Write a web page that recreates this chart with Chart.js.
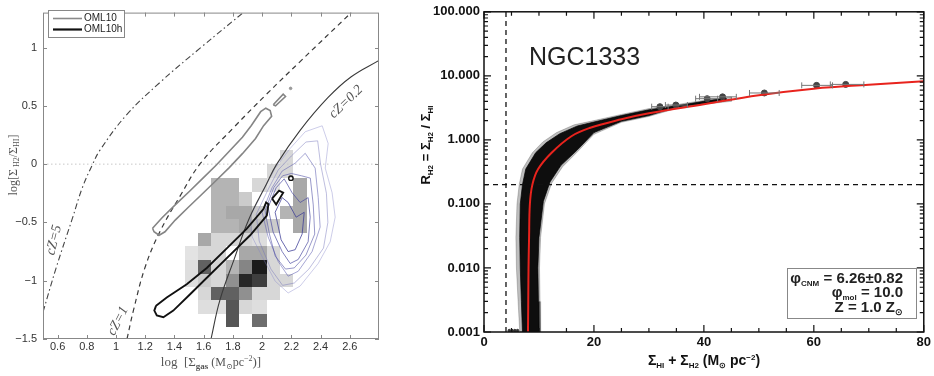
<!DOCTYPE html>
<html>
<head>
<meta charset="utf-8">
<script src="https://cdn.jsdelivr.net/npm/chart.js@4.4.0/dist/chart.umd.min.js"></script>
<style>
html, body { margin: 0; padding: 0; background: #fff; }
#wrap { position: relative; width: 934px; height: 376px; overflow: hidden; }
#leftBox { position: absolute; left: 0; top: 0; width: 400px; height: 376px; }
#rightBox { position: absolute; left: 400px; top: 0; width: 534px; height: 376px; }
</style>
</head>
<body>
<div id="wrap">
  <div id="leftBox"><canvas id="leftChart" width="400" height="376"></canvas></div>
  <div id="rightBox"><canvas id="rightChart" width="534" height="376"></canvas></div>
</div>
<script>
// ---------- left panel data (log Sigma_gas vs log R_H2) ----------
const leftXTicks = [0.6, 0.8, 1.0, 1.2, 1.4, 1.6, 1.8, 2.0, 2.2, 2.4, 2.6];
const leftYTicks = [-1.5, -1, -0.5, 0, 0.5, 1];

// model curves
const cz5X = [0.50, 0.59, 0.70, 0.77, 0.84, 0.89, 1.07, 1.30, 1.58, 1.90];
const cz5Y = [-1.27, -0.89, -0.47, -0.20, 0.00, 0.12, 0.42, 0.70, 1.00, 1.33];
const cz1X = [1.075, 1.12, 1.20, 1.30, 1.44, 1.58, 1.81, 2.03, 2.26, 2.61];
const cz1Y = [-1.50, -1.25, -0.88, -0.58, -0.27, 0.01, 0.32, 0.60, 0.88, 1.30];
const cz02X = [1.65, 1.71, 1.81, 1.91, 2.03, 2.10, 2.26, 2.45, 2.61, 2.80];
const cz02Y = [-1.50, -1.17, -0.81, -0.47, -0.17, 0.00, 0.29, 0.57, 0.75, 0.89];

// OML10 contour (grey) + small islands
const oml10X = [1.25, 1.315, 1.405, 1.505, 1.595, 1.685, 1.775, 1.865, 1.925, 1.99, 2.025, 2.055, 2.065, 2.01, 1.955, 1.865, 1.775, 1.685, 1.595, 1.495, 1.405, 1.335, 1.295, 1.26, 1.25];
const oml10Y = [-0.55, -0.46, -0.35, -0.23, -0.12, -0.01, 0.11, 0.23, 0.33, 0.45, 0.48, 0.46, 0.41, 0.33, 0.22, 0.09, -0.03, -0.14, -0.25, -0.37, -0.48, -0.58, -0.61, -0.58, -0.55];
const oml10IsleX = [2.076, 2.144, 2.160, 2.092, 2.076];
const oml10IsleY = [0.51, 0.60, 0.58, 0.50, 0.51];
const oml10DotX = [2.195];
const oml10DotY = [0.65];

// OML10h contour (black) + small islands
const oml10hX = [1.274, 1.347, 1.484, 1.621, 1.758, 1.895, 2.009, 2.027, 2.043, 2.032, 1.918, 1.781, 1.644, 1.507, 1.392, 1.324, 1.279, 1.262, 1.274];
const oml10hY = [-1.214, -1.144, -1.031, -0.891, -0.722, -0.554, -0.385, -0.329, -0.343, -0.441, -0.610, -0.778, -0.947, -1.116, -1.256, -1.313, -1.298, -1.256, -1.214];
const oml10hIsleX = [2.068, 2.116, 2.144, 2.096, 2.068];
const oml10hIsleY = [-0.295, -0.228, -0.245, -0.346, -0.295];
const oml10hDotX = [2.197];
const oml10hDotY = [-0.12];

// observed data contours (blue), outermost first
const blue1X = [1.918, 2.0, 2.089, 2.192, 2.295, 2.411, 2.452, 2.432, 2.479, 2.5, 2.466, 2.384, 2.260, 2.178, 2.089, 2.0, 1.932, 1.918];
const blue1Y = [-0.455, -0.245, -0.034, 0.135, 0.278, 0.329, 0.177, -0.034, -0.245, -0.455, -0.666, -0.852, -1.046, -1.105, -1.003, -0.793, -0.624, -0.455];
const blue1bX = [1.96, 2.04, 2.11, 2.20, 2.30, 2.38, 2.40, 2.44, 2.45, 2.42, 2.32, 2.22, 2.14, 2.06, 1.98, 1.96];
const blue1bY = [-0.43, -0.22, -0.05, 0.07, 0.19, 0.20, 0.0, -0.25, -0.50, -0.72, -0.90, -1.02, -1.04, -0.90, -0.66, -0.43];
const blue2X = [2.0, 2.068, 2.137, 2.226, 2.295, 2.363, 2.384, 2.397, 2.342, 2.247, 2.178, 2.110, 2.041, 2.0];
const blue2Y = [-0.413, -0.202, -0.059, 0.008, 0.093, -0.034, -0.287, -0.540, -0.750, -0.919, -0.961, -0.835, -0.624, -0.413];
const blue2bX = [2.02, 2.08, 2.14, 2.20, 2.27, 2.33, 2.35, 2.36, 2.30, 2.22, 2.16, 2.09, 2.05, 2.02];
const blue2bY = [-0.40, -0.20, -0.10, -0.08, -0.10, -0.12, -0.35, -0.60, -0.78, -0.89, -0.90, -0.79, -0.60, -0.40];
const blue3X = [2.041, 2.096, 2.151, 2.205, 2.260, 2.315, 2.329, 2.315, 2.247, 2.192, 2.137, 2.075, 2.041];
const blue3Y = [-0.371, -0.202, -0.126, -0.245, -0.329, -0.287, -0.455, -0.666, -0.818, -0.852, -0.750, -0.582, -0.371];
const blue4X = [2.089, 2.137, 2.178, 2.233, 2.288, 2.274, 2.226, 2.178, 2.130, 2.089];
const blue4Y = [-0.413, -0.287, -0.329, -0.455, -0.413, -0.599, -0.734, -0.750, -0.649, -0.413];

// 2D histogram of the data (grey squares), density 0..1
const heatXEdges = [1.47, 1.56, 1.65, 1.75, 1.84, 1.93, 2.03, 2.12, 2.21, 2.31];
const heatYEdges = [0.12, 0, -0.12, -0.235, -0.355, -0.47, -0.59, -0.70, -0.82, -0.94, -1.05, -1.165, -1.285, -1.395];
const heatDensity = [
  [0, 0, 0, 0, 0, 0, 0, 0.15, 0],
  [0, 0, 0, 0, 0, 0, 0.15, 0.15, 0],
  [0, 0, 0.3, 0.3, 0, 0.15, 0.1, 0, 0.35],
  [0, 0, 0.3, 0.3, 0.2, 0, 0, 0, 0.35],
  [0, 0, 0.3, 0.35, 0.35, 0.2, 0, 0.3, 0.35],
  [0, 0, 0.3, 0.3, 0.35, 0.25, 0.2, 0, 0.35],
  [0, 0.35, 0.15, 0.15, 0.15, 0.12, 0, 0, 0],
  [0.1, 0.15, 0.15, 0, 0.35, 0.35, 0.15, 0, 0],
  [0.12, 0.65, 0.15, 0.3, 0.5, 0.95, 0.15, 0, 0],
  [0.12, 0.2, 0.15, 0.45, 0.9, 0.8, 0.15, 0.15, 0],
  [0, 0.15, 0.65, 0.65, 0.45, 0.15, 0.15, 0, 0],
  [0, 0.12, 0.12, 0.7, 0.15, 0.12, 0, 0, 0],
  [0, 0, 0, 0.7, 0, 0.6, 0, 0, 0]
];

const zeroLineX = [0.5, 2.8];
const zeroLineY = [0, 0];

// ---------- right panel data (NGC1333) ----------
const rightXTicks = [0, 20, 40, 60, 80];
const rightYTicks = [0.001, 0.01, 0.1, 1, 10, 100];

const fitX = [8.0, 8.05, 8.1, 8.2, 8.35, 8.8, 9.85, 12.3, 15.9, 19.2, 25, 30, 40, 50, 60, 70, 80];
const fitY = [0.001, 0.003, 0.01, 0.03, 0.1, 0.2, 0.35, 0.63, 1.14, 1.53, 2.1, 2.6, 3.6, 4.98, 6.3, 7.25, 8.2];

const bandInnerX = [7.0, 6.8, 6.6, 6.5, 6.6, 7.0, 7.6, 9.4, 11.3, 13.8, 17, 20, 25, 30, 35, 40, 44, 44, 40, 35, 30, 25, 20, 17, 14, 12, 10.8, 10.0, 9.8, 9.9, 10.0, 7.0];
const bandInnerY = [0.001, 0.003, 0.01, 0.03, 0.1, 0.2, 0.35, 0.63, 0.9, 1.25, 1.65, 1.9, 2.4, 2.95, 3.4, 4.0, 4.5, 4.1, 3.7, 3.25, 2.4, 1.95, 1.3, 0.7, 0.4, 0.22, 0.11, 0.03, 0.01, 0.003, 0.001, 0.001];
const bandOuterX = [6.5, 6.2, 5.9, 5.8, 6.0, 6.4, 7.0, 8.8, 10.7, 13.2, 16.4, 20, 25, 30, 35, 40, 45, 45, 40, 35, 30, 25, 20, 17, 14.3, 12.3, 11.0, 10.3, 10.1, 10.2, 10.3, 6.5];
const bandOuterY = [0.001, 0.003, 0.01, 0.03, 0.1, 0.2, 0.35, 0.63, 0.93, 1.3, 1.72, 2.0, 2.5, 3.08, 3.55, 4.15, 4.7, 4.0, 3.6, 3.1, 2.32, 1.88, 1.22, 0.65, 0.38, 0.21, 0.1, 0.03, 0.01, 0.003, 0.001, 0.001];

const floorX = [4.6, 5.1, 5.6, 6.1];
const floorY = [0.00105, 0.00105, 0.00105, 0.00105];

const sparseX = [32.0, 34.9, 40.6, 43.4, 51.0, 60.5, 65.8];
const sparseY = [3.3, 3.5, 4.4, 4.7, 5.4, 7.1, 7.35];
const sparseXLo = [30.5, 33.0, 38.5, 39.2, 48.3, 57.8, 63.0];
const sparseXHi = [33.5, 37.0, 42.5, 45.9, 53.7, 63.4, 69.1];

const cutX = 4;
const cutY = 0.2;

// ---------- helpers ----------
function xy(xs, ys) {
  return xs.map((x, i) => ({ x: x, y: ys[i] }));
}

function outline(xs, ys, color, width, extra) {
  return Object.assign({
    data: xy(xs, ys), showLine: true, borderColor: color, borderWidth: width,
    pointRadius: 0, fill: false, tension: 0
  }, extra || {});
}

// draws a row of text pieces (subscripts etc.) centred on (x, y)
function richText(ctx, parts, x, y, angle, family, weight, color, align) {
  ctx.save();
  ctx.translate(x, y);
  ctx.rotate(angle || 0);
  ctx.fillStyle = color;
  ctx.textAlign = 'left';
  ctx.textBaseline = 'alphabetic';
  let total = 0;
  parts.forEach(p => {
    ctx.font = (p.style || '') + ' ' + (p.w || weight) + ' ' + p.s + 'px ' + family;
    p.width = ctx.measureText(p.t).width;
    total += p.width;
  });
  let cx = align === 'right' ? -total : -total / 2;
  parts.forEach(p => {
    ctx.font = (p.style || '') + ' ' + (p.w || weight) + ' ' + p.s + 'px ' + family;
    ctx.fillText(p.t, cx, 4 + (p.dy || 0));
    cx += p.width;
  });
  ctx.restore();
}

const SERIF = '"Liberation Serif", "DejaVu Serif", serif';
const SANS = '"Liberation Sans", Arial, sans-serif';

// ---------- left panel ----------
const leftDeco = {
  id: 'leftDeco',
  beforeDatasetsDraw(chart) {
    const { ctx, scales: { x, y } } = chart;
    ctx.save();
    heatDensity.forEach((row, r) => {
      row.forEach((d, c) => {
        if (!d) return;
        const x0 = Math.round(x.getPixelForValue(heatXEdges[c]));
        const x1 = Math.round(x.getPixelForValue(heatXEdges[c + 1]));
        const y0 = Math.round(y.getPixelForValue(heatYEdges[r]));
        const y1 = Math.round(y.getPixelForValue(heatYEdges[r + 1]));
        const g = Math.round(250 - 235 * d);
        ctx.fillStyle = 'rgb(' + g + ',' + g + ',' + g + ')';
        ctx.fillRect(x0, y0, x1 - x0, y1 - y0);
      });
    });
    ctx.restore();
  },
  afterDraw(chart) {
    const { ctx, chartArea: a, scales: { x, y } } = chart;
    ctx.save();
    // frame with inward ticks on all sides
    ctx.strokeStyle = '#888';
    ctx.lineWidth = 1;
    ctx.strokeRect(a.left + 0.5, a.top + 0.5, a.right - a.left - 1, a.bottom - a.top - 1);
    ctx.beginPath();
    leftXTicks.forEach(v => {
      const px = Math.round(x.getPixelForValue(v)) + 0.5;
      ctx.moveTo(px, a.bottom); ctx.lineTo(px, a.bottom - 4);
      ctx.moveTo(px, a.top); ctx.lineTo(px, a.top + 4);
    });
    leftYTicks.forEach(v => {
      const py = Math.round(y.getPixelForValue(v)) + 0.5;
      ctx.moveTo(a.left, py); ctx.lineTo(a.left + 4, py);
      ctx.moveTo(a.right, py); ctx.lineTo(a.right - 4, py);
    });
    ctx.stroke();

    // legend box
    ctx.fillStyle = '#fff';
    ctx.fillRect(48, 10, 76, 27);
    ctx.strokeStyle = '#888';
    ctx.strokeRect(48.5, 10.5, 76, 27);
    ctx.lineWidth = 1.6;
    ctx.strokeStyle = '#8a8a8a';
    ctx.beginPath(); ctx.moveTo(53, 18.5); ctx.lineTo(82, 18.5); ctx.stroke();
    ctx.lineWidth = 2.2;
    ctx.strokeStyle = '#111';
    ctx.beginPath(); ctx.moveTo(53, 29.5); ctx.lineTo(82, 29.5); ctx.stroke();
    ctx.fillStyle = '#222';
    ctx.font = '10px ' + SANS;
    ctx.textBaseline = 'middle';
    ctx.fillText('OML10', 84, 18.5);
    ctx.fillText('OML10h', 84, 29.5);

    // curve labels
    const lab = (t, px, py, ang) => {
      ctx.save();
      ctx.translate(px, py);
      ctx.rotate(ang);
      ctx.fillStyle = '#555';
      ctx.font = 'italic 14px ' + SERIF;
      ctx.textAlign = 'center';
      ctx.textBaseline = 'middle';
      ctx.fillText(t, 0, 0);
      ctx.restore();
    };
    lab('cZ=5', 54, 240, -76 * Math.PI / 180);
    lab('cZ=1', 118, 321, -63 * Math.PI / 180);
    lab('cZ=0.2', 346, 102, -44 * Math.PI / 180);
    ctx.restore();

    // axis titles
    richText(ctx, [
      { t: 'log[Σ', s: 12 }, { t: ' H2', s: 8, dy: 2 }, { t: '/Σ', s: 12 }, { t: 'HI', s: 8, dy: 2 }, { t: ']', s: 12 }
    ], 13, 165, -Math.PI / 2, SERIF, 'normal', '#555');
    richText(ctx, [
      { t: 'log  [Σ', s: 13 }, { t: 'gas', s: 9, dy: 3, w: 'bold' }, { t: ' (M', s: 12 }, { t: '⊙', s: 8, dy: 3 },
      { t: 'pc', s: 12 }, { t: '−2', s: 8, dy: -5 }, { t: ')]', s: 13 }
    ], 211, 362, 0, SERIF, 'normal', '#555');
  }
};

new Chart(document.getElementById('leftChart'), {
  type: 'scatter',
  data: {
    datasets: [
      outline(oml10hX, oml10hY, '#111', 1.9),
      outline(oml10hIsleX, oml10hIsleY, '#111', 1.9),
      { data: xy(oml10hDotX, oml10hDotY), pointRadius: 2.2, pointBorderWidth: 1.4, borderColor: '#111', backgroundColor: 'rgba(0,0,0,0)' },
      outline(oml10X, oml10Y, '#858585', 1.6),
      outline(oml10IsleX, oml10IsleY, '#858585', 1.6),
      { data: xy(oml10DotX, oml10DotY), pointRadius: 1.3, backgroundColor: '#999', borderColor: '#999' },
      outline(cz02X, cz02Y, '#3a3a3a', 1.1, { tension: 0.4 }),
      outline(cz1X, cz1Y, '#3a3a3a', 1.2, { tension: 0.4, borderDash: [5, 4] }),
      outline(cz5X, cz5Y, '#444', 1.1, { tension: 0.4, borderDash: [6, 3, 1.5, 3] }),
      outline(blue4X, blue4Y, 'rgba(60,60,150,0.85)', 0.9),
      outline(blue3X, blue3Y, 'rgba(70,70,160,0.75)', 0.9),
      outline(blue2bX, blue2bY, 'rgba(80,80,165,0.65)', 0.9),
      outline(blue2X, blue2Y, 'rgba(90,90,175,0.6)', 0.9),
      outline(blue1bX, blue1bY, 'rgba(110,110,185,0.5)', 0.9),
      outline(blue1X, blue1Y, 'rgba(130,130,200,0.45)', 0.9),
      outline(zeroLineX, zeroLineY, '#c8c8c8', 1, { borderDash: [1.5, 2.5] })
    ]
  },
  options: {
    responsive: false,
    animation: false,
    layout: { padding: { top: 6, right: 21, left: 0, bottom: 0 } },
    plugins: { legend: { display: false }, tooltip: { enabled: false } },
    scales: {
      x: {
        type: 'linear', min: 0.5, max: 2.8,
        afterBuildTicks: s => { s.ticks = leftXTicks.map(v => ({ value: v })); },
        afterFit: s => { s.height = 37; },
        grid: { display: false, drawTicks: false },
        border: { display: false },
        ticks: {
          autoSkip: false, maxRotation: 0, padding: 1, color: '#333',
          font: { size: 11, family: SANS },
          callback: v => String(Math.round(v * 10) / 10)
        }
      },
      y: {
        type: 'linear', min: -1.5, max: 1.3,
        afterBuildTicks: s => { s.ticks = leftYTicks.map(v => ({ value: v })); },
        afterFit: s => { s.width = 43; },
        grid: { display: false, drawTicks: false },
        border: { display: false },
        ticks: {
          autoSkip: false, padding: 6, color: '#333',
          font: { size: 11, family: SANS },
          callback: v => String(v).replace('-', '−')
        }
      }
    }
  },
  plugins: [leftDeco]
});

// ---------- right panel ----------
const rightDeco = {
  id: 'rightDeco',
  afterDatasetsDraw(chart) {
    const { ctx, scales: { x, y } } = chart;
    ctx.save();
    ctx.strokeStyle = '#777';
    ctx.lineWidth = 1;
    ctx.beginPath();
    sparseX.forEach((v, i) => {
      const py = y.getPixelForValue(sparseY[i]);
      const a = x.getPixelForValue(sparseXLo[i]);
      const b = x.getPixelForValue(sparseXHi[i]);
      ctx.moveTo(a, py); ctx.lineTo(b, py);
      ctx.moveTo(a, py - 3); ctx.lineTo(a, py + 3);
      ctx.moveTo(b, py - 3); ctx.lineTo(b, py + 3);
    });
    ctx.stroke();
    ctx.restore();
  },
  afterDraw(chart) {
    const { ctx, chartArea: a, scales: { x, y } } = chart;
    ctx.save();
    ctx.strokeStyle = '#111';
    ctx.lineWidth = 1.5;
    ctx.strokeRect(a.left, a.top, a.right - a.left, a.bottom - a.top);
    ctx.lineWidth = 1.2;
    ctx.beginPath();
    for (let v = 0; v <= 80; v += 5) {
      const px = x.getPixelForValue(v);
      const len = v % 20 === 0 ? 7 : 4;
      ctx.moveTo(px, a.bottom); ctx.lineTo(px, a.bottom - len);
      ctx.moveTo(px, a.top); ctx.lineTo(px, a.top + len);
    }
    rightYTicks.forEach((d, i) => {
      for (let m = 1; m <= 9; m++) {
        if (m > 1 && i === rightYTicks.length - 1) break;
        const py = y.getPixelForValue(d * m);
        const len = m === 1 ? 7 : 4;
        ctx.moveTo(a.left, py); ctx.lineTo(a.left + len, py);
        ctx.moveTo(a.right, py); ctx.lineTo(a.right - len, py);
      }
    });
    ctx.stroke();

    // object name
    ctx.fillStyle = '#222';
    ctx.font = '25px ' + SANS;
    ctx.textBaseline = 'alphabetic';
    ctx.fillText('NGC1333', 129, 65);

    // parameter box
    ctx.fillStyle = '#fff';
    ctx.fillRect(387, 268, 130, 51);
    ctx.strokeStyle = '#888';
    ctx.lineWidth = 1;
    ctx.strokeRect(387.5, 268.5, 129, 50);
    ctx.restore();
    richText(ctx, [{ t: 'φ', s: 15 }, { t: 'CNM', s: 8, dy: 3 }, { t: ' = 6.26±0.82', s: 15 }], 503, 279, 0, SANS, 'bold', '#222', 'right');
    richText(ctx, [{ t: 'φ', s: 15 }, { t: 'mol', s: 8, dy: 3 }, { t: ' = 10.0', s: 15 }], 503, 293, 0, SANS, 'bold', '#222', 'right');
    richText(ctx, [{ t: 'Z = 1.0 Z', s: 15 }, { t: '⊙', s: 9, dy: 3 }], 503, 308, 0, SANS, 'bold', '#222', 'right');

    // axis titles
    richText(ctx, [
      { t: 'R', s: 13 }, { t: 'H2', s: 8, dy: 3 }, { t: ' = Σ', s: 13 }, { t: 'H2', s: 8, dy: 3 },
      { t: ' / Σ', s: 13 }, { t: 'HI', s: 8, dy: 3 }
    ], 26, 145, -Math.PI / 2, SANS, 'bold', '#111');
    richText(ctx, [
      { t: 'Σ', s: 14 }, { t: 'HI', s: 8, dy: 3 }, { t: ' + Σ', s: 14 }, { t: 'H2', s: 8, dy: 3 },
      { t: ' (M', s: 14 }, { t: '⊙', s: 8, dy: 3 }, { t: ' pc', s: 14 }, { t: '−2', s: 8, dy: -5 }, { t: ')', s: 14 }
    ], 304, 361, 0, SANS, 'bold', '#111');
  }
};

new Chart(document.getElementById('rightChart'), {
  type: 'scatter',
  data: {
    datasets: [
      outline(fitX, fitY, '#e8231d', 2, { tension: 0.4, order: 0 }),
      { data: xy(sparseX, sparseY), pointRadius: 3, backgroundColor: '#444', borderColor: '#444', order: 1 },
      outline([cutX, cutX], [0.001, 100], '#111', 1.3, { borderDash: [5, 4], order: 2 }),
      outline([0, 80], [cutY, cutY], '#111', 1.3, { borderDash: [5, 4], order: 2 }),
      { data: xy(floorX, floorY), pointRadius: 1.3, backgroundColor: '#333', borderColor: '#333', order: 3 },
      outline(bandInnerX, bandInnerY, 'rgba(0,0,0,0.7)', 1, { fill: 'shape', backgroundColor: 'rgba(5,5,5,0.95)', order: 4 }),
      outline(bandOuterX, bandOuterY, 'rgba(0,0,0,0.2)', 1, { fill: 'shape', backgroundColor: 'rgba(40,40,40,0.3)', order: 5 })
    ]
  },
  options: {
    responsive: false,
    animation: false,
    layout: { padding: { top: 8, right: 9, left: 0, bottom: 0 } },
    plugins: { legend: { display: false }, tooltip: { enabled: false } },
    scales: {
      x: {
        type: 'linear', min: 0, max: 80,
        afterBuildTicks: s => { s.ticks = rightXTicks.map(v => ({ value: v })); },
        afterFit: s => { s.height = 44; },
        grid: { display: false, drawTicks: false },
        border: { display: false },
        ticks: {
          autoSkip: false, maxRotation: 0, padding: 3, color: '#111',
          font: { size: 13, weight: 'bold', family: SANS }
        }
      },
      y: {
        type: 'logarithmic', min: 0.001, max: 100,
        afterBuildTicks: s => { s.ticks = rightYTicks.map(v => ({ value: v })); },
        afterFit: s => { s.width = 84; },
        grid: { display: false, drawTicks: false },
        border: { display: false },
        ticks: {
          autoSkip: false, padding: 4, color: '#111',
          font: { size: 13, weight: 'bold', family: SANS },
          callback: v => Number(v).toFixed(3)
        }
      }
    }
  },
  plugins: [rightDeco]
});
</script>
</body>
</html>
